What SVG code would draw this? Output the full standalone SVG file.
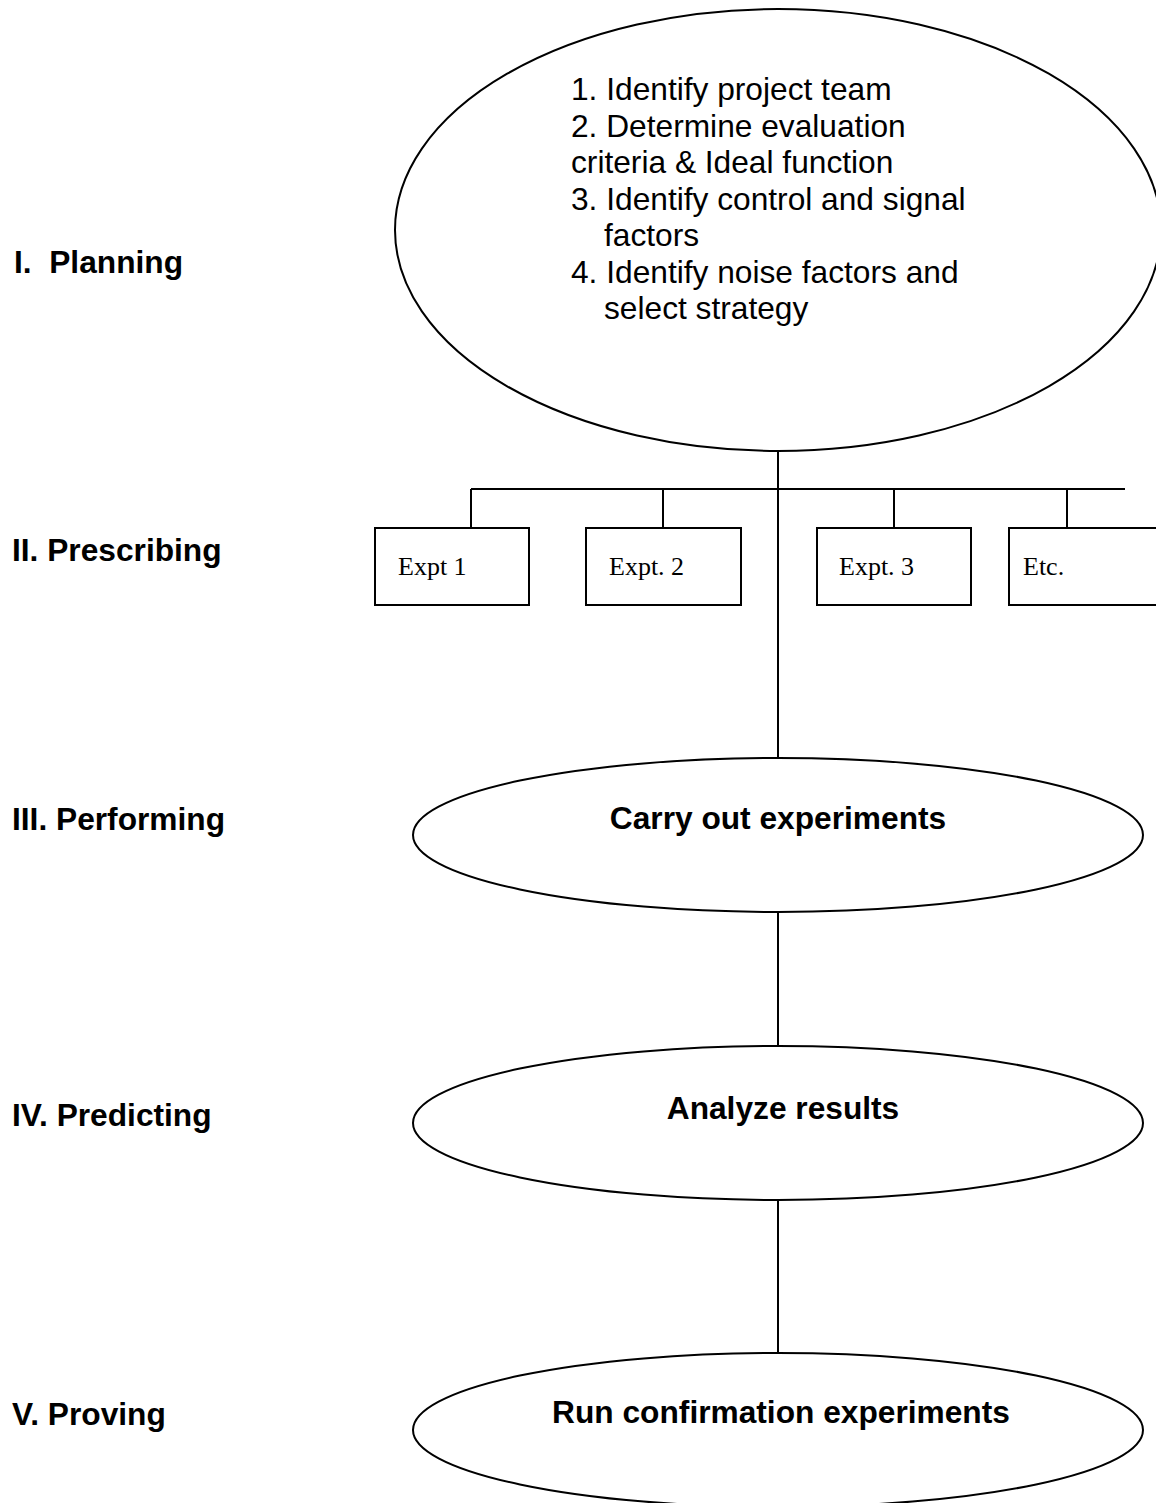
<svg xmlns="http://www.w3.org/2000/svg" width="1156" height="1503" viewBox="0 0 1156 1503">
  <style>
    .shape { fill: #ffffff; stroke: #000000; stroke-width: 2; }
    .wire { fill: none; stroke: #000000; stroke-width: 2; }
    .phase { font-family: "Liberation Sans", Arial, sans-serif; font-size: 31.7px; font-weight: bold; fill: #000000; }
    .step { font-family: "Liberation Sans", Arial, sans-serif; font-size: 31.7px; fill: #000000; }
    .title { font-family: "Liberation Sans", Arial, sans-serif; font-size: 31.7px; font-weight: bold; fill: #000000; text-anchor: middle; }
    .expt { font-family: "Liberation Serif", "Times New Roman", serif; font-size: 26px; fill: #000000; }
  </style>
  <rect width="1156" height="1503" fill="#ffffff"/>

  <!-- phase labels down the left side -->
  <g id="phase-labels">
    <text class="phase" x="14" y="273" xml:space="preserve">I.  Planning</text>
    <text class="phase" x="12" y="561">II. Prescribing</text>
    <text class="phase" x="12" y="830">III. Performing</text>
    <text class="phase" x="12" y="1126">IV. Predicting</text>
    <text class="phase" x="12" y="1425">V. Proving</text>
  </g>

  <!-- connecting lines -->
  <g id="connectors">
    <line class="wire" x1="778" y1="451" x2="778" y2="758"/>
    <line class="wire" x1="471" y1="489" x2="1125" y2="489"/>
    <line class="wire" x1="471" y1="489" x2="471" y2="528"/>
    <line class="wire" x1="663" y1="489" x2="663" y2="528"/>
    <line class="wire" x1="894" y1="489" x2="894" y2="528"/>
    <line class="wire" x1="1067" y1="489" x2="1067" y2="528"/>
    <line class="wire" x1="778" y1="912" x2="778" y2="1046"/>
    <line class="wire" x1="778" y1="1200" x2="778" y2="1353"/>
  </g>

  <!-- I. planning -->
  <g id="planning">
    <ellipse class="shape" cx="778" cy="230" rx="383" ry="221"/>
    <text class="step" x="571" y="100">1. Identify project team</text>
    <text class="step" x="571" y="136.5">2. Determine evaluation</text>
    <text class="step" x="571" y="173">criteria &amp; Ideal function</text>
    <text class="step" x="571" y="209.5">3. Identify control and signal</text>
    <text class="step" x="604" y="246">factors</text>
    <text class="step" x="571" y="282.5">4. Identify noise factors and</text>
    <text class="step" x="604" y="319">select strategy</text>
  </g>

  <!-- II. prescribing: experiment boxes -->
  <g id="expt-1">
    <rect class="shape" x="375" y="528" width="154" height="77"/>
    <text class="expt" x="398" y="575">Expt 1</text>
  </g>
  <g id="expt-2">
    <rect class="shape" x="586" y="528" width="155" height="77"/>
    <text class="expt" x="609" y="575">Expt. 2</text>
  </g>
  <g id="expt-3">
    <rect class="shape" x="817" y="528" width="154" height="77"/>
    <text class="expt" x="839" y="575">Expt. 3</text>
  </g>
  <g id="expt-etc">
    <rect class="shape" x="1009" y="528" width="160" height="77"/>
    <text class="expt" x="1023" y="575">Etc.</text>
  </g>

  <!-- III. performing -->
  <g id="performing">
    <ellipse class="shape" cx="778" cy="835" rx="365" ry="77"/>
    <text class="title" x="778" y="829">Carry out experiments</text>
  </g>

  <!-- IV. predicting -->
  <g id="predicting">
    <ellipse class="shape" cx="778" cy="1123" rx="365" ry="77"/>
    <text class="title" x="783" y="1119">Analyze results</text>
  </g>

  <!-- V. proving -->
  <g id="proving">
    <ellipse class="shape" cx="778" cy="1430" rx="365" ry="77"/>
    <text class="title" x="781" y="1423">Run confirmation experiments</text>
  </g>
</svg>
